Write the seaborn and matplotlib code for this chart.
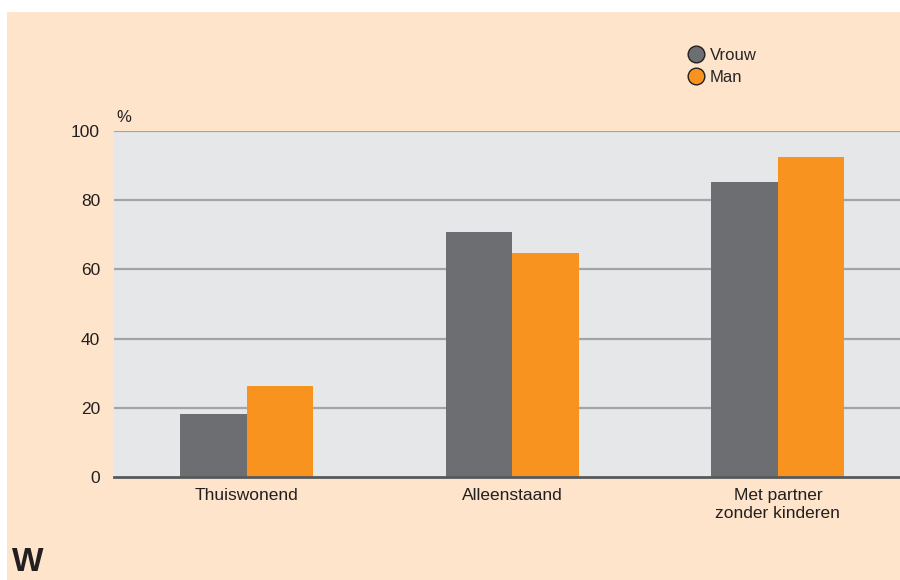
import seaborn as sns
import matplotlib.pyplot as plt
import pandas as pd
from matplotlib.lines import Line2D

categories = ["Thuiswonend", "Alleenstaand", "Met partner\nzonder kinderen"]
vrouw = [18.3, 70.8, 85.3]
man = [26.3, 64.7, 92.5]
series = ["Vrouw", "Man"]
colors = {"Vrouw": "#6D6E71", "Man": "#F7931E"}
yticks = [0, 20, 40, 60, 80, 100]

df = pd.DataFrame({
    "categorie": categories * 2,
    "geslacht": ["Vrouw"] * 3 + ["Man"] * 3,
    "waarde": vrouw + man,
})

sns.set_style("white")
plt.rcParams["font.family"] = ["Liberation Sans", "DejaVu Sans"]

fig = plt.figure(figsize=(9, 5.8), dpi=100)
fig.patch.set_facecolor("white")
# peach background panel (white strip at top and left)
fig.patches.append(plt.Rectangle((7 / 900, 0), 1, 1 - 12 / 580, transform=fig.transFigure,
                                 facecolor="#FDE4CA", edgecolor="none", zorder=-10))

ax = fig.add_axes([114 / 900, 1 - 477 / 580, 1 - 114 / 900, (477 - 131) / 580])
ax.set_facecolor("#E6E7E9")

sns.barplot(data=df, x="categorie", y="waarde", hue="geslacht", hue_order=series,
            palette=colors, width=0.5, gap=0, saturation=1, ax=ax, legend=False,
            linewidth=0, edgecolor="none", zorder=3)

ax.set_ylim(0, 100)
ax.set_xlim(-0.5, 2.46)
ax.set_yticks(yticks)
for y in yticks[1:]:
    ax.axhline(y, color="#A3A4A6", lw=1.6, zorder=1)
for s in ["top", "right", "left"]:
    ax.spines[s].set_visible(False)
ax.spines["bottom"].set_color("#58595B")
ax.spines["bottom"].set_linewidth(2)
ax.spines["bottom"].set_zorder(5)
ax.tick_params(axis="both", length=0, labelsize=12.5, colors="#231F20")
ax.tick_params(axis="y", pad=10)
ax.tick_params(axis="x", pad=8)
ax.set_xlabel("")
ax.set_ylabel("")
ax.text(116 / 900, 1 - 117 / 580, "%", transform=fig.transFigure, fontsize=12,
        color="#231F20", ha="left", va="center")

handles = [Line2D([], [], marker="o", linestyle="none", markersize=12,
                  markerfacecolor=colors[s], markeredgecolor="#231F20",
                  markeredgewidth=1) for s in series]
fig.legend(handles, series, loc="upper left", bbox_to_anchor=(688 / 900, 1 - 48 / 580),
           frameon=False, fontsize=12, handlelength=1.0, handletextpad=0.3,
           labelspacing=0.4, borderpad=0, borderaxespad=0)

fig.text(12 / 900, 2 / 580, "W", fontsize=24, fontweight="bold", color="#231F20",
         ha="left", va="bottom")

fig.savefig("out.png", dpi=100, facecolor=fig.get_facecolor())
